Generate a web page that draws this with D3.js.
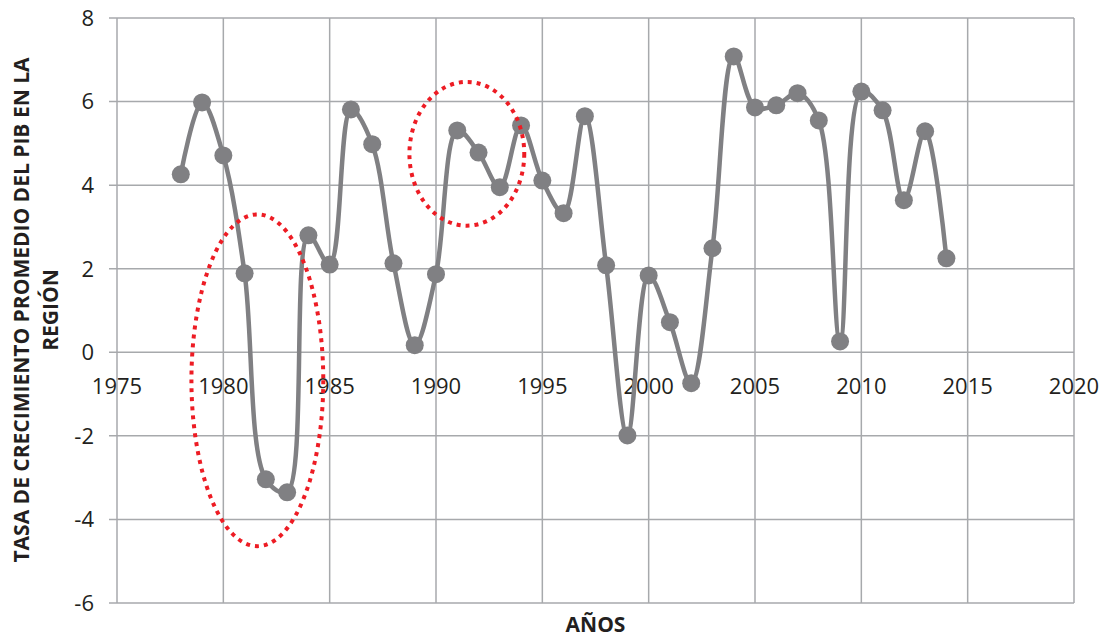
<!DOCTYPE html>
<html>
<head>
<meta charset="utf-8">
<script src="https://cdn.jsdelivr.net/npm/d3@7"></script>
<style>
  body { margin: 0; background: #fff; }
  svg { display: block; font-family: "Open Sans", sans-serif; }
</style>
</head>
<body>
<div class="chart"></div>
<script>
/* CONSTANTS AND GLOBALS */
const width = 1107,
  height = 638,
  margin = { top: 18, bottom: 35, left: 117, right: 33 };

/* DATA */
const years = [1978, 1979, 1980, 1981, 1982, 1983, 1984, 1985, 1986, 1987,
  1988, 1989, 1990, 1991, 1992, 1993, 1994, 1995, 1996, 1997,
  1998, 1999, 2000, 2001, 2002, 2003, 2004, 2005, 2006, 2007,
  2008, 2009, 2010, 2011, 2012, 2013, 2014];
const growth = [4.26, 5.98, 4.71, 1.89, -3.04, -3.35, 2.8, 2.1, 5.81, 4.98,
  2.13, 0.17, 1.87, 5.31, 4.78, 3.95, 5.43, 4.11, 3.33, 5.65,
  2.08, -1.99, 1.84, 0.72, -0.74, 2.49, 7.08, 5.86, 5.91, 6.2,
  5.55, 0.26, 6.24, 5.79, 3.64, 5.29, 2.25];
const xTicks = [1975, 1980, 1985, 1990, 1995, 2000, 2005, 2010, 2015, 2020];
const yTicks = [-6, -4, -2, 0, 2, 4, 6, 8];
// highlighted periods (center year, center value, half-width in years, half-height in value)
const highlights = [
  { cx: 1981.6, cy: -0.67, rx: 3.1, ry: 3.97 },
  { cx: 1991.45, cy: 4.75, rx: 2.7, ry: 1.72 }
];
const yTitle = ["TASA DE CRECIMIENTO PROMEDIO DEL PIB EN LA", "REGIÓN"];
const xTitle = "AÑOS";

const data = years.map((y, i) => ({ year: y, value: growth[i] }));

/* SCALES */
const xScale = d3.scaleLinear()
  .domain([1975, 2020])
  .range([margin.left, width - margin.right]);

const yScale = d3.scaleLinear()
  .domain([-6, 8])
  .range([height - margin.bottom, margin.top]);

const svg = d3.select(".chart")
  .append("svg")
  .attr("width", width)
  .attr("height", height);

const gridColor = "#a7a9ac";

// horizontal gridlines (with small tick stubs to the left)
svg.append("g")
  .selectAll("line")
  .data(yTicks)
  .join("line")
  .attr("x1", margin.left - 8)
  .attr("x2", width - margin.right)
  .attr("y1", d => yScale(d))
  .attr("y2", d => yScale(d))
  .attr("stroke", gridColor)
  .attr("stroke-width", 1.5);

// vertical gridlines
svg.append("g")
  .selectAll("line")
  .data(xTicks)
  .join("line")
  .attr("x1", d => xScale(d))
  .attr("x2", d => xScale(d))
  .attr("y1", yScale(8))
  .attr("y2", yScale(-6))
  .attr("stroke", gridColor)
  .attr("stroke-width", 1.5);

// y tick labels
svg.append("g")
  .selectAll("text")
  .data(yTicks)
  .join("text")
  .attr("x", margin.left - 23)
  .attr("y", d => yScale(d))
  .attr("dy", "0.36em")
  .attr("text-anchor", "end")
  .attr("font-size", 22)
  .attr("fill", "#231f20")
  .text(d => d);

// x tick labels, sitting under the zero line
svg.append("g")
  .selectAll("text")
  .data(xTicks)
  .join("text")
  .attr("x", d => xScale(d))
  .attr("y", yScale(0) + 42)
  .attr("text-anchor", "middle")
  .attr("font-size", 22)
  .attr("fill", "#231f20")
  .text(d => d);

// axis titles
svg.append("text")
  .attr("x", (margin.left + width - margin.right) / 2)
  .attr("y", 632)
  .attr("text-anchor", "middle")
  .attr("font-size", 21)
  .attr("font-weight", "bold")
  .attr("fill", "#231f20")
  .text(xTitle);

svg.append("g")
  .attr("transform", `translate(${29}, ${310})rotate(-90)`)
  .selectAll("text")
  .data(yTitle)
  .join("text")
  .attr("x", 0)
  .attr("y", (d, i) => i * 29)
  .attr("text-anchor", "middle")
  .attr("font-size", 21)
  .attr("font-weight", "bold")
  .attr("fill", "#231f20")
  .text(d => d);

// line
const lineFunction = d3.line()
  .x(d => xScale(d.year))
  .y(d => yScale(d.value))
  .curve(d3.curveCatmullRom.alpha(0.5));

const lineColor = "#808083";

svg.append("path")
  .datum(data)
  .attr("fill", "none")
  .attr("stroke", lineColor)
  .attr("stroke-width", 4.5)
  .attr("stroke-linejoin", "round")
  .attr("d", lineFunction);

svg.append("g")
  .selectAll("circle")
  .data(data)
  .join("circle")
  .attr("cx", d => xScale(d.year))
  .attr("cy", d => yScale(d.value))
  .attr("r", 9)
  .attr("fill", lineColor);

// red dotted ellipses
svg.append("g")
  .selectAll("ellipse")
  .data(highlights)
  .join("ellipse")
  .attr("cx", d => xScale(d.cx))
  .attr("cy", d => yScale(d.cy))
  .attr("rx", d => xScale(d.cx + d.rx) - xScale(d.cx))
  .attr("ry", d => yScale(d.cy - d.ry) - yScale(d.cy))
  .attr("fill", "none")
  .attr("stroke", "#ed1c24")
  .attr("stroke-width", 4)
  .attr("stroke-dasharray", "4 5");
</script>
</body>
</html>
